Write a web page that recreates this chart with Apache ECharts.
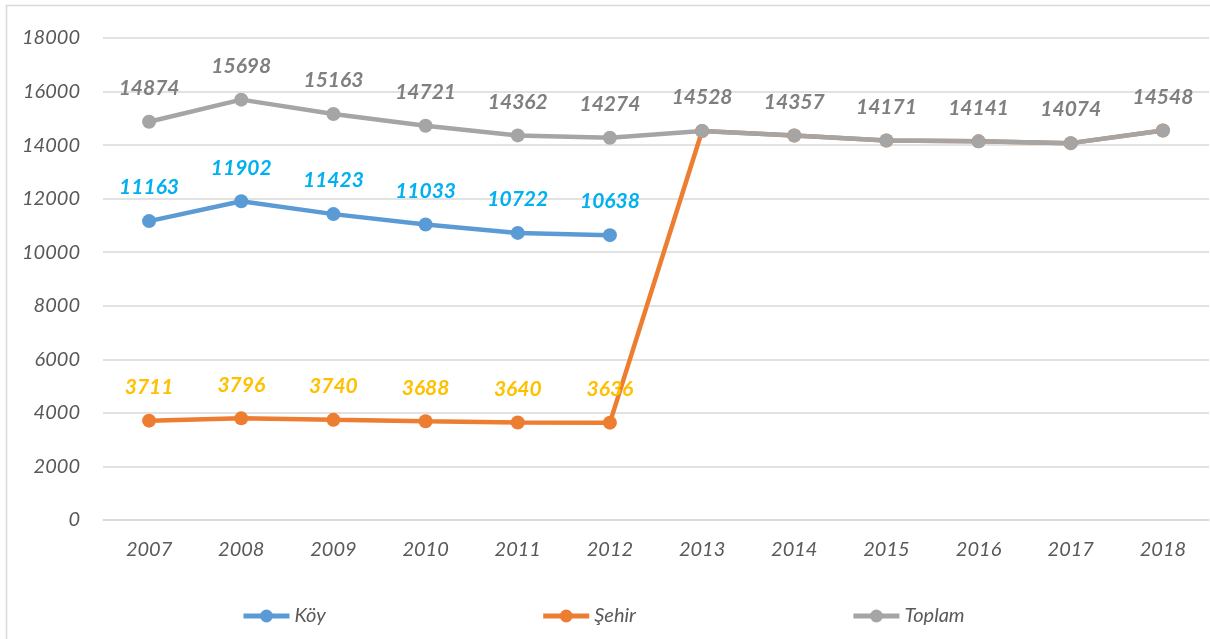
<!DOCTYPE html>
<html>
<head>
<meta charset="UTF-8">
<title>Köy / Şehir / Toplam</title>
<script src="https://cdn.jsdelivr.net/npm/echarts@6/dist/echarts.min.js"></script>
<style>
  * { margin: 0; padding: 0; }
  body { background: #fff; }
  #main { width: 1210px; height: 639px; }
</style>
</head>
<body>
<div id="main"></div>
<script>
// yillar ve seriler
var years = ['2007', '2008', '2009', '2010', '2011', '2012', '2013', '2014', '2015', '2016', '2017', '2018'];
var koy = [11163, 11902, 11423, 11033, 10722, 10638];
var sehir = [3711, 3796, 3740, 3688, 3640, 3636, 14528, 14357, 14171, 14141, 14074, 14548];
var toplam = [14874, 15698, 15163, 14721, 14362, 14274, 14528, 14357, 14171, 14141, 14074, 14548];
var yTicks = [0, 2000, 4000, 6000, 8000, 10000, 12000, 14000, 16000, 18000];

var font = 'Lato, "Open Sans", sans-serif';

function labelStyle(color) {
  return {
    show: true,
    position: 'top',
    distance: 16,
    color: color,
    fontFamily: font,
    fontSize: 21,
    fontStyle: 'italic',
    fontWeight: 'bold'
  };
}

var myChart = echarts.init(document.getElementById('main'));

var option = {
  animation: false,
  backgroundColor: '#fff',
  graphic: [{
    type: 'rect',
    shape: { x: 6.5, y: 5.5, width: 1400, height: 800 },
    style: { fill: 'none', stroke: '#d9d9d9', lineWidth: 1.5 },
    silent: true
  }],
  grid: { left: 103, right: 1, top: 38, bottom: 119 },
  legend: {
    bottom: 8,
    left: 236,
    itemGap: 215,
    itemWidth: 46,
    itemHeight: 16,
    lineStyle: { width: 5 },
    textStyle: { fontFamily: font, fontSize: 20, fontStyle: 'italic', color: '#595959' },
    data: ['Köy', 'Şehir', 'Toplam']
  },
  xAxis: {
    type: 'category',
    data: years,
    boundaryGap: true,
    axisLine: { lineStyle: { color: '#d9d9d9', width: 1.5 } },
    axisTick: { show: false },
    axisLabel: { margin: 20, color: '#595959', fontFamily: font, fontSize: 20, fontStyle: 'italic' }
  },
  yAxis: {
    type: 'value',
    min: yTicks[0],
    max: yTicks[yTicks.length - 1],
    interval: 2000,
    axisLine: { show: false },
    axisTick: { show: false },
    axisLabel: {
      margin: 23, color: '#595959', fontFamily: font, fontSize: 20, fontStyle: 'italic',
      formatter: function (v) { return String(v); }
    },
    splitLine: { lineStyle: { color: '#d9d9d9', width: 1.5 } }
  },
  series: [
    {
      name: 'Köy',
      type: 'line',
      data: koy,
      color: '#5b9bd5',
      symbol: 'circle',
      symbolSize: 14,
      lineStyle: { width: 4.5 },
      label: labelStyle('#00b0f0')
    },
    {
      name: 'Şehir',
      type: 'line',
      data: sehir,
      color: '#ed7d31',
      symbol: 'circle',
      symbolSize: 14,
      lineStyle: { width: 4.5 },
      label: Object.assign(labelStyle('#ffc000'), {
        formatter: function (p) { return p.dataIndex < 6 ? p.value : ''; }
      })
    },
    {
      name: 'Toplam',
      type: 'line',
      data: toplam,
      color: '#a5a5a5',
      symbol: 'circle',
      symbolSize: 14,
      lineStyle: { width: 4.5 },
      label: labelStyle('#7f7f7f')
    }
  ]
};

myChart.setOption(option);
</script>
</body>
</html>
